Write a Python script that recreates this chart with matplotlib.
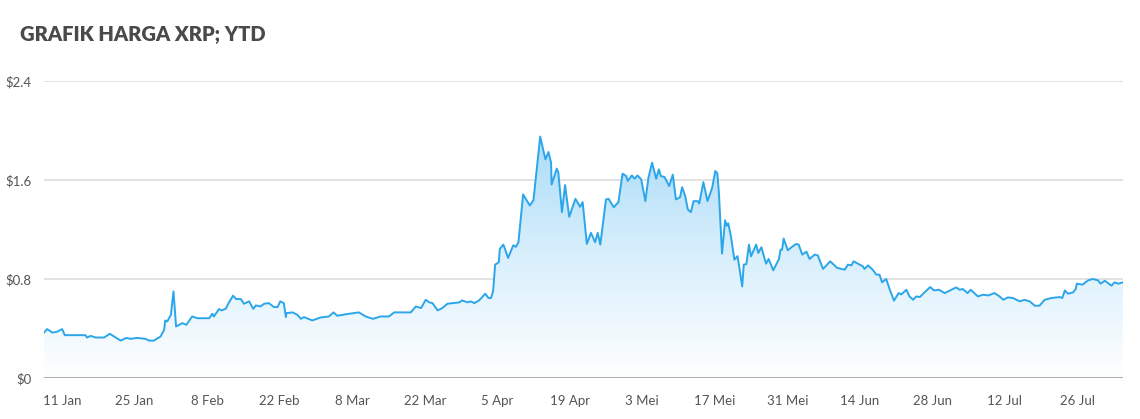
import numpy as np
import matplotlib
matplotlib.use('Agg')
from matplotlib import pyplot as plt
import matplotlib.dates as mdates
from matplotlib.colors import LinearSegmentedColormap

# day of year 2021 (0 = 1 Jan)
day = [6.5, 7.1, 8.1, 9.0, 10.0, 10.5, 14.5, 14.8, 15.5, 16.5, 18.1, 19.2, 21.3, 22.4, 23.2,
       24.5, 26.1, 26.8, 27.7, 29.0, 29.7, 29.9, 30.3, 31.0, 31.5, 32.0, 33.2, 34.0, 35.1,
       36.1, 38.4, 39.0, 39.3, 40.3, 40.8, 41.6, 42.2, 43.0, 43.6, 44.5, 45.1, 46.1, 46.9,
       47.4, 48.3, 49.0, 49.9, 50.9, 51.6, 52.1, 52.8, 53.2, 53.3, 54.5, 55.4, 56.1, 56.7,
       58.3, 59.9, 61.5, 62.4, 63.1, 65.4, 67.3, 68.6, 70.0, 71.5, 73.1, 74.1, 77.3, 78.3,
       79.3, 80.2, 80.9, 81.5, 82.5, 83.4, 84.4, 86.7, 87.2, 88.3, 88.9, 89.6, 90.5, 91.7,
       92.3, 92.8, 93.2, 93.6, 94.3, 94.5, 95.2, 96.1, 97.1, 97.6, 98.1, 99.0, 100.3, 101.0,
       102.3, 103.3, 103.9, 104.4, 104.5, 105.5, 105.8, 106.5, 107.1, 107.9, 109.1, 110.0,
       110.5, 111.3, 112.1, 112.9, 113.4, 113.9, 115.0, 115.5, 116.5, 117.4, 118.2, 118.9,
       119.2, 120.0, 120.5, 121.1, 121.8, 122.6, 123.2, 123.9, 124.7, 125.2, 125.6, 126.3,
       127.2, 127.9, 128.5, 129.3, 129.7, 130.3, 130.8, 131.4, 131.9, 132.7, 133.0, 133.8,
       134.6, 135.5, 136.1, 136.5, 136.8, 137.4, 138.0, 138.3, 138.6, 139.1, 139.8, 140.4,
       141.3, 141.6, 142.1, 142.6, 143.0, 144.0, 144.4, 145.0, 145.9, 146.4, 147.3, 148.4,
       148.7, 149.0, 149.3, 150.1, 150.8, 151.7, 152.2, 152.9, 153.7, 154.3, 155.3, 155.9,
       156.9, 158.3, 159.6, 161.1, 161.7, 162.4, 162.8, 164.6, 164.9, 165.6, 166.5, 167.2,
       167.8, 168.3, 169.1, 169.8, 170.6, 171.5, 172.0, 173.0, 173.6, 174.3, 174.9, 175.6,
       176.5, 177.6, 178.3, 179.3, 180.4, 181.7, 182.6, 183.3, 183.9, 184.8, 185.4, 186.8,
       187.8, 188.8, 190.0, 191.0, 191.7, 192.6, 193.6, 194.9, 195.8, 196.8, 197.8, 198.7,
       199.7, 201.0, 202.6, 203.1, 203.6, 204.2, 205.2, 205.7, 205.9, 207.0, 207.6, 208.1,
       209.0, 210.0, 210.5, 211.3, 212.6, 213.2, 213.9, 214.8]

price = [0.367, 0.395, 0.367, 0.373, 0.395, 0.346, 0.346, 0.327, 0.340, 0.327, 0.327, 0.357,
         0.302, 0.324, 0.316, 0.324, 0.316, 0.302, 0.302, 0.335, 0.389, 0.465, 0.457, 0.511,
         0.700, 0.416, 0.443, 0.430, 0.497, 0.483, 0.483, 0.519, 0.497, 0.557, 0.546, 0.560,
         0.610, 0.665, 0.638, 0.638, 0.600, 0.619, 0.559, 0.586, 0.578, 0.600, 0.605, 0.573,
         0.573, 0.619, 0.605, 0.492, 0.524, 0.530, 0.511, 0.478, 0.492, 0.465, 0.489, 0.497,
         0.530, 0.503, 0.519, 0.530, 0.497, 0.478, 0.497, 0.497, 0.530, 0.530, 0.578, 0.565,
         0.632, 0.611, 0.605, 0.546, 0.565, 0.600, 0.611, 0.627, 0.611, 0.619, 0.605, 0.627,
         0.681, 0.646, 0.646, 0.700, 0.916, 0.935, 1.043, 1.078, 0.970, 1.072, 1.060, 1.097,
         1.483, 1.394, 1.437, 1.951, 1.767, 1.826, 1.740, 1.564, 1.692, 1.660, 1.340, 1.559,
         1.302, 1.448, 1.383, 1.421, 1.083, 1.173, 1.097, 1.173, 1.078, 1.443, 1.448, 1.380,
         1.421, 1.651, 1.632, 1.592, 1.637, 1.610, 1.637, 1.605, 1.429, 1.619, 1.740, 1.610,
         1.686, 1.632, 1.624, 1.551, 1.643, 1.443, 1.461, 1.542, 1.470, 1.362, 1.340, 1.429,
         1.429, 1.410, 1.583, 1.429, 1.537, 1.673, 1.654, 1.497, 1.005, 1.275, 1.230, 1.250,
         1.150, 0.956, 0.985, 0.740, 0.916, 0.920, 1.078, 0.983, 1.078, 1.010, 1.056, 0.924,
         0.962, 0.870, 0.962, 1.037, 1.037, 1.127, 1.032, 1.056, 1.083, 1.078, 0.997, 1.021,
         0.962, 0.997, 0.990, 0.881, 0.943, 0.890, 0.875, 0.916, 0.910, 0.943, 0.902, 0.881,
         0.910, 0.875, 0.835, 0.835, 0.773, 0.800, 0.713, 0.625, 0.686, 0.675, 0.713, 0.659,
         0.632, 0.659, 0.654, 0.692, 0.735, 0.708, 0.713, 0.686, 0.713, 0.732, 0.713, 0.719,
         0.686, 0.713, 0.659, 0.673, 0.667, 0.686, 0.659, 0.632, 0.651, 0.646, 0.619, 0.632,
         0.619, 0.584, 0.584, 0.632, 0.646, 0.654, 0.646, 0.708, 0.681, 0.692, 0.719, 0.762,
         0.754, 0.773, 0.789, 0.800, 0.789, 0.762, 0.786, 0.746, 0.773, 0.762, 0.773]

y_ticks = [0, 0.8, 1.6, 2.4]
y_labels = ['$0', '$0.8', '$1.6', '$2.4']
x_tick_dates = ['2021-01-11', '2021-01-25', '2021-02-08', '2021-02-22', '2021-03-08',
                '2021-03-22', '2021-04-05', '2021-04-19', '2021-05-03', '2021-05-17',
                '2021-05-31', '2021-06-14', '2021-06-28', '2021-07-12', '2021-07-26']
x_labels = ['11 Jan', '25 Jan', '8 Feb', '22 Feb', '8 Mar', '22 Mar', '5 Apr', '19 Apr',
            '3 Mei', '17 Mei', '31 Mei', '14 Jun', '28 Jun', '12 Jul', '26 Jul']

plt.rcParams['font.family'] = ['Lato', 'DejaVu Sans']

start = mdates.datestr2num('2021-01-01')
x = start + np.array(day)
y = np.array(price)

fig = plt.figure(figsize=(11.4, 4.19), dpi=100)
ax = fig.add_axes([0.0386, 0.0979, 0.9464, 0.7088])

line_col = '#2ba6ea'

# gradient fill under the line
poly = ax.fill_between(x, y, 0, color='none', lw=0)
grad_cmap = LinearSegmentedColormap.from_list('g', ['#ffffff', '#d8effc', '#a9dbf8'])
grad = np.linspace(0, 1, 256).reshape(-1, 1)
img = ax.imshow(grad, cmap=grad_cmap, aspect='auto', origin='lower',
                extent=[x[0], x[-1], 0, 2.0], zorder=1)
path = poly.get_paths()[0]
img.set_clip_path(path, transform=ax.transData)

ax.plot(x, y, color=line_col, lw=1.4, zorder=3)

ax.set_xlim(x[0], x[-1])
ax.set_ylim(0, 2.4)
ax.set_yticks(y_ticks)
ax.set_yticklabels(y_labels)
ax.set_xticks([mdates.datestr2num(d) for d in x_tick_dates])
ax.set_xticklabels(x_labels)

for v in y_ticks[1:]:
    ax.axhline(v, color='#dddddd', lw=1.2, zorder=0)
ax.axhline(0, color='#aaaaaa', lw=1.4, zorder=4)

for s in ax.spines.values():
    s.set_visible(False)
ax.tick_params(axis='both', length=0, labelsize=9.5, colors='#555555')
ax.tick_params(axis='y', pad=9)
ax.tick_params(axis='x', pad=12)

fig.text(0.0175, 0.918, 'GRAFIK HARGA XRP; YTD', fontsize=14.5, fontweight='heavy',
         color='#4a4a4a', va='center', ha='left')

fig.savefig('out.png', dpi=100)
